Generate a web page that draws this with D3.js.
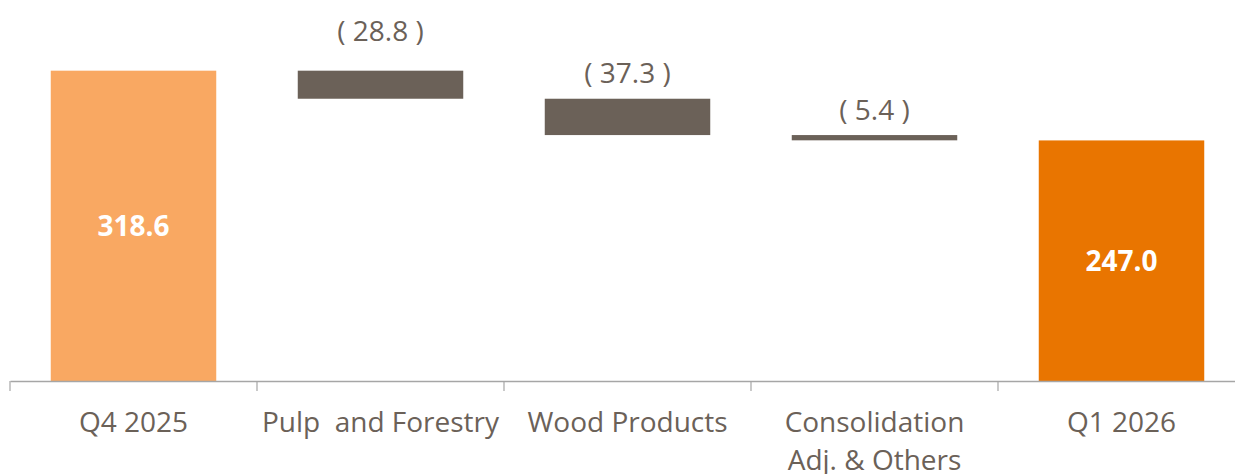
<!DOCTYPE html>
<html>
<head>
<meta charset="utf-8">
<script src="https://cdn.jsdelivr.net/npm/d3@7"></script>
<style>
  html, body { margin: 0; padding: 0; background: #fff; }
  svg { display: block; }
  text { font-family: "Open Sans", Lato, sans-serif; white-space: pre; }
</style>
</head>
<body>
<svg id="chart"></svg>
<script>
(function () {
    "use strict";

    var categories = ["Q4 2025", "Pulp  and Forestry", "Wood Products", "Consolidation|Adj. & Others", "Q1 2026"];
    var values = [318.6, -28.8, -37.3, -5.4, 247.0];
    var kinds = ["total", "delta", "delta", "delta", "total"];

    var dim = { width: 1235, height: 474 };
    var baseY = 381;
    var pxPerUnit = 0.974;

    var x = d3.scaleBand().domain(categories).range([10, 1245]).padding(0);
    var y = d3.scaleLinear().domain([0, 350]).range([baseY, baseY - 350 * pxPerUnit]);

    var svg = d3.select("#chart")
        .attr("width", dim.width)
        .attr("height", dim.height);

    // build waterfall segments
    var running = 0;
    var rows = categories.map(function (c, i) {
        var lo, hi;
        if (kinds[i] === "total") {
            lo = 0; hi = values[i]; running = values[i];
        } else {
            hi = running; lo = running + values[i]; running = lo;
        }
        return { cat: c, value: values[i], kind: kinds[i], lo: lo, hi: hi, i: i };
    });

    var colors = ["#f9a862", "#6b6158", "#6b6158", "#6b6158", "#e97500"];
    var labelGap = [0, 30, 16, 15, 0];
    var barW = x.bandwidth() * 0.67;

    svg.selectAll("rect.bar").data(rows).enter().append("rect")
        .attr("class", "bar")
        .attr("x", function (d) { return x(d.cat) + (x.bandwidth() - barW) / 2; })
        .attr("y", function (d) { return y(d.hi); })
        .attr("width", barW)
        .attr("height", function (d) { return y(d.lo) - y(d.hi); })
        .attr("fill", function (d) { return colors[d.i]; });

    // axis
    var axis = d3.axisBottom(x).tickSize(0).tickFormat("");
    var ax = svg.append("g").attr("transform", "translate(0," + baseY + ")").call(axis);
    ax.select(".domain").attr("stroke", "#a6a6a6").attr("stroke-width", 1.5);
    var bounds = categories.map(function (c) { return x(c); }).concat([x.range()[1]]);
    ax.selectAll("line.sep").data(bounds).enter().append("line")
        .attr("class", "sep")
        .attr("x1", function (d) { return d; }).attr("x2", function (d) { return d; })
        .attr("y1", 0).attr("y2", 10)
        .attr("stroke", "#a6a6a6").attr("stroke-width", 1.2);

    // category labels
    var cl = svg.selectAll("text.cat").data(rows).enter().append("text")
        .attr("class", "cat")
        .attr("x", function (d) { return x(d.cat) + x.bandwidth() / 2; })
        .attr("y", 432)
        .attr("text-anchor", "middle")
        .attr("fill", "#6b6158")
        .style("font-size", "28px");
    cl.each(function (d) {
        var t = d3.select(this);
        d.cat.split("|").forEach(function (line, k) {
            t.append("tspan")
                .attr("x", x(d.cat) + x.bandwidth() / 2)
                .attr("dy", k === 0 ? 0 : 38)
                .text(line);
        });
    });

    // value labels
    svg.selectAll("text.val").data(rows).enter().append("text")
        .attr("class", "val")
        .attr("x", function (d) { return x(d.cat) + x.bandwidth() / 2; })
        .attr("y", function (d) {
            return d.kind === "total" ? (y(d.lo) + y(d.hi)) / 2 + 10 : y(d.hi) - labelGap[d.i];
        })
        .attr("text-anchor", "middle")
        .attr("fill", function (d) { return d.kind === "total" ? "#ffffff" : "#6b6158"; })
        .style("font-weight", function (d) { return d.kind === "total" ? "bold" : "normal"; })
        .style("font-size", "28px")
        .text(function (d) {
            return d.kind === "total" ? d.value.toFixed(1) : "( " + Math.abs(d.value).toFixed(1) + " )";
        });
})();
</script>
</body>
</html>
